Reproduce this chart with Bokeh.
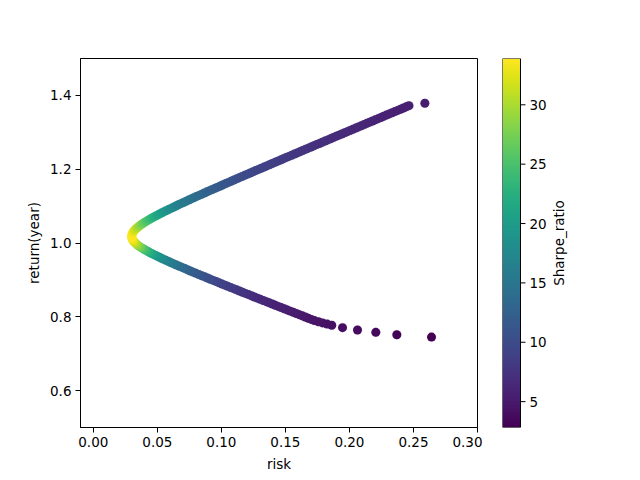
import math
import numpy as np
from bokeh.plotting import figure
from bokeh.models import (ColumnDataSource, Range1d, FixedTicker, PrintfTickFormatter,
                          LinearColorMapper)
from bokeh.core.properties import value
from bokeh.palettes import Viridis256
from bokeh.layouts import row
from bokeh.embed import file_html
from bokeh.resources import INLINE

# portfolio frontier points (return per year, risk)
ret = [0.7450, 0.7514, 0.7578, 0.7642, 0.7706,
       0.7770, 0.7802, 0.7834, 0.7866, 0.7898, 0.7930, 0.7962, 0.7994, 0.8026, 0.8058,
       0.8090, 0.8122, 0.8154, 0.8186, 0.8218, 0.8250, 0.8282, 0.8314, 0.8346, 0.8378,
       0.8410, 0.8442, 0.8474, 0.8506, 0.8538, 0.8570, 0.8602, 0.8634, 0.8666, 0.8698,
       0.8730, 0.8762, 0.8794, 0.8826, 0.8858, 0.8890, 0.8922, 0.8954, 0.8986, 0.9018,
       0.9050, 0.9082, 0.9114, 0.9146, 0.9178, 0.9210, 0.9242, 0.9274, 0.9306, 0.9338,
       0.9370, 0.9402, 0.9434, 0.9466, 0.9498, 0.9530, 0.9562, 0.9594, 0.9626, 0.9658,
       0.9690, 0.9722, 0.9754, 0.9786, 0.9818, 0.9850, 0.9882, 0.9914, 0.9946, 0.9978,
       1.0010, 1.0042, 1.0074, 1.0106, 1.0138, 1.0170, 1.0202, 1.0234, 1.0266, 1.0298,
       1.0330, 1.0362, 1.0394, 1.0426, 1.0458, 1.0490, 1.0522, 1.0554, 1.0586, 1.0618,
       1.0650, 1.0682, 1.0714, 1.0746, 1.0778, 1.0810, 1.0842, 1.0874, 1.0906, 1.0938,
       1.0970, 1.1002, 1.1034, 1.1066, 1.1098, 1.1130, 1.1162, 1.1194, 1.1226, 1.1258,
       1.1290, 1.1322, 1.1354, 1.1386, 1.1418, 1.1450, 1.1482, 1.1514, 1.1546, 1.1578,
       1.1610, 1.1642, 1.1674, 1.1706, 1.1738, 1.1770, 1.1802, 1.1834, 1.1866, 1.1898,
       1.1930, 1.1962, 1.1994, 1.2026, 1.2058, 1.2090, 1.2122, 1.2154, 1.2186, 1.2218,
       1.2250, 1.2282, 1.2314, 1.2346, 1.2378, 1.2410, 1.2442, 1.2474, 1.2506, 1.2538,
       1.2570, 1.2602, 1.2634, 1.2666, 1.2698, 1.2730, 1.2762, 1.2794, 1.2826, 1.2858,
       1.2890, 1.2922, 1.2954, 1.2986, 1.3018, 1.3050, 1.3082, 1.3114, 1.3146, 1.3178,
       1.3210, 1.3242, 1.3274, 1.3306, 1.3338, 1.3370, 1.3402, 1.3434, 1.3466, 1.3498,
       1.3530, 1.3562, 1.3594, 1.3626, 1.3658, 1.3690, 1.3722,
       1.3786]
risk = [0.2641, 0.2370, 0.2206, 0.2063, 0.1946,
        0.1862, 0.1826, 0.1790, 0.1758, 0.1726, 0.1702, 0.1678, 0.1655, 0.1632, 0.1608,
        0.1585, 0.1561, 0.1538, 0.1514, 0.1491, 0.1467, 0.1444, 0.1421, 0.1398, 0.1374,
        0.1351, 0.1327, 0.1304, 0.1281, 0.1258, 0.1235, 0.1212, 0.1188, 0.1165, 0.1142,
        0.1119, 0.1096, 0.1073, 0.1050, 0.1028, 0.1005, 0.0982, 0.0960, 0.0937, 0.0914,
        0.0892, 0.0870, 0.0847, 0.0824, 0.0802, 0.0780, 0.0758, 0.0736, 0.0715, 0.0694,
        0.0672, 0.0650, 0.0629, 0.0608, 0.0588, 0.0568, 0.0547, 0.0528, 0.0508, 0.0489,
        0.0470, 0.0452, 0.0435, 0.0418, 0.0401, 0.0386, 0.0371, 0.0357, 0.0345, 0.0334,
        0.0324, 0.0316, 0.0309, 0.0304, 0.0301, 0.0300, 0.0301, 0.0303, 0.0306, 0.0311,
        0.0318, 0.0326, 0.0336, 0.0347, 0.0358, 0.0371, 0.0384, 0.0398, 0.0413, 0.0428,
        0.0444, 0.0461, 0.0478, 0.0495, 0.0513, 0.0531, 0.0549, 0.0568, 0.0587, 0.0606,
        0.0625, 0.0644, 0.0664, 0.0684, 0.0704, 0.0724, 0.0744, 0.0764, 0.0784, 0.0804,
        0.0825, 0.0846, 0.0867, 0.0887, 0.0908, 0.0929, 0.0950, 0.0971, 0.0992, 0.1013,
        0.1034, 0.1055, 0.1076, 0.1097, 0.1119, 0.1140, 0.1161, 0.1182, 0.1204, 0.1225,
        0.1247, 0.1268, 0.1290, 0.1311, 0.1333, 0.1354, 0.1376, 0.1397, 0.1419, 0.1440,
        0.1462, 0.1483, 0.1505, 0.1527, 0.1549, 0.1570, 0.1592, 0.1613, 0.1635, 0.1657,
        0.1679, 0.1700, 0.1722, 0.1744, 0.1766, 0.1787, 0.1809, 0.1831, 0.1853, 0.1874,
        0.1896, 0.1918, 0.1940, 0.1962, 0.1984, 0.2005, 0.2027, 0.2049, 0.2071, 0.2093,
        0.2115, 0.2136, 0.2158, 0.2180, 0.2202, 0.2224, 0.2246, 0.2267, 0.2289, 0.2311,
        0.2333, 0.2355, 0.2377, 0.2399, 0.2421, 0.2443, 0.2465,
        0.2589]
n = min(len(ret), len(risk))
ret, risk = ret[:n], risk[:n]
# Sharpe ratio as defined by the chart (return / risk)
sharpe = [r / s for r, s in zip(ret, risk)]

x_ticks = [0.00, 0.05, 0.10, 0.15, 0.20, 0.25, 0.30]
y_ticks = [0.6, 0.8, 1.0, 1.2, 1.4]
cb_ticks = [5, 10, 15, 20, 25, 30]
cb_tick_labels = [str(t) for t in cb_ticks]

FONT = "DejaVu Sans"
FS = "13.5px"

low, high = min(sharpe), max(sharpe)
mapper = LinearColorMapper(palette=Viridis256, low=low, high=high)

src = ColumnDataSource(dict(risk=risk, ret=ret, sharpe=sharpe))

p = figure(output_backend="svg", toolbar_location=None,
           frame_width=397, frame_height=369,
           min_border_left=80, min_border_top=58, min_border_bottom=45, min_border_right=5,
           x_range=Range1d(-0.01, 0.30), y_range=Range1d(0.5, 1.5),
           background_fill_color="white", border_fill_color="white")
p.scatter("risk", "ret", source=src, size=9,
          fill_color={"field": "sharpe", "transform": mapper},
          line_color={"field": "sharpe", "transform": mapper}, line_width=0.1)

p.grid.visible = False
p.outline_line_color = "black"
p.outline_line_width = 1
p.xaxis.ticker = FixedTicker(ticks=x_ticks)
p.yaxis.ticker = FixedTicker(ticks=y_ticks)
p.xaxis.formatter = PrintfTickFormatter(format="%.2f")
p.yaxis.formatter = PrintfTickFormatter(format="%.1f")
p.xaxis.axis_label = "risk"
p.yaxis.axis_label = "return(year)"
for ax in (p.xaxis[0], p.yaxis[0]):
    ax.axis_line_color = "black"
    ax.major_tick_line_color = "black"
    ax.major_tick_out = 5
    ax.major_tick_in = 0
    ax.minor_tick_line_color = None
    ax.major_label_text_font = FONT
    ax.major_label_text_font_size = FS
    ax.major_label_text_color = "black"
    ax.axis_label_text_font = FONT
    ax.axis_label_text_font_size = FS
    ax.axis_label_text_font_style = "normal"
    ax.axis_label_text_color = "black"
    ax.major_label_standoff = 4
p.xaxis.axis_label_standoff = 6
p.yaxis.axis_label_standoff = 5

# colorbar drawn in its own small figure; bar occupies x in [0, 1] (18 px)
BAR_PX = 18
CB_W = 88
cb = figure(output_backend="svg", toolbar_location=None,
            frame_width=CB_W, frame_height=369,
            min_border_left=20, min_border_top=58, min_border_bottom=45, min_border_right=0,
            x_range=Range1d(0, CB_W / BAR_PX), y_range=Range1d(low, high),
            x_axis_location=None, y_axis_location=None,
            background_fill_color="white", border_fill_color="white")
cb.outline_line_color = None
cb.grid.visible = False
grad = np.linspace(low, high, 256).reshape(-1, 1)
cb.image(image=[grad], x=0, y=low, dw=1, dh=high - low, color_mapper=mapper)
cb.quad(left=[0], right=[1], bottom=[low], top=[high], fill_color=None,
        line_color="black", line_width=1)
tick_src = ColumnDataSource(dict(y=cb_ticks, lab=cb_tick_labels,
                                 x0=[1] * len(cb_ticks),
                                 x1=[1 + 5 / BAR_PX] * len(cb_ticks),
                                 xl=[1 + 9 / BAR_PX] * len(cb_ticks)))
cb.segment(x0="x0", y0="y", x1="x1", y1="y", source=tick_src, line_color="black", line_width=1)
cb.text(x="xl", y="y", text="lab", source=tick_src, text_font=value(FONT),
        text_font_size=FS, text_color="black", text_align="left", text_baseline="middle")
cb.text(x=[56 / BAR_PX], y=[(low + high) / 2], text=["Sharpe_ratio"], angle=math.pi / 2,
        text_font=value(FONT), text_font_size=FS, text_color="black",
        text_align="center", text_baseline="middle")

layout = row(p, cb)
open("out.html", "w").write(file_html(layout, INLINE))
